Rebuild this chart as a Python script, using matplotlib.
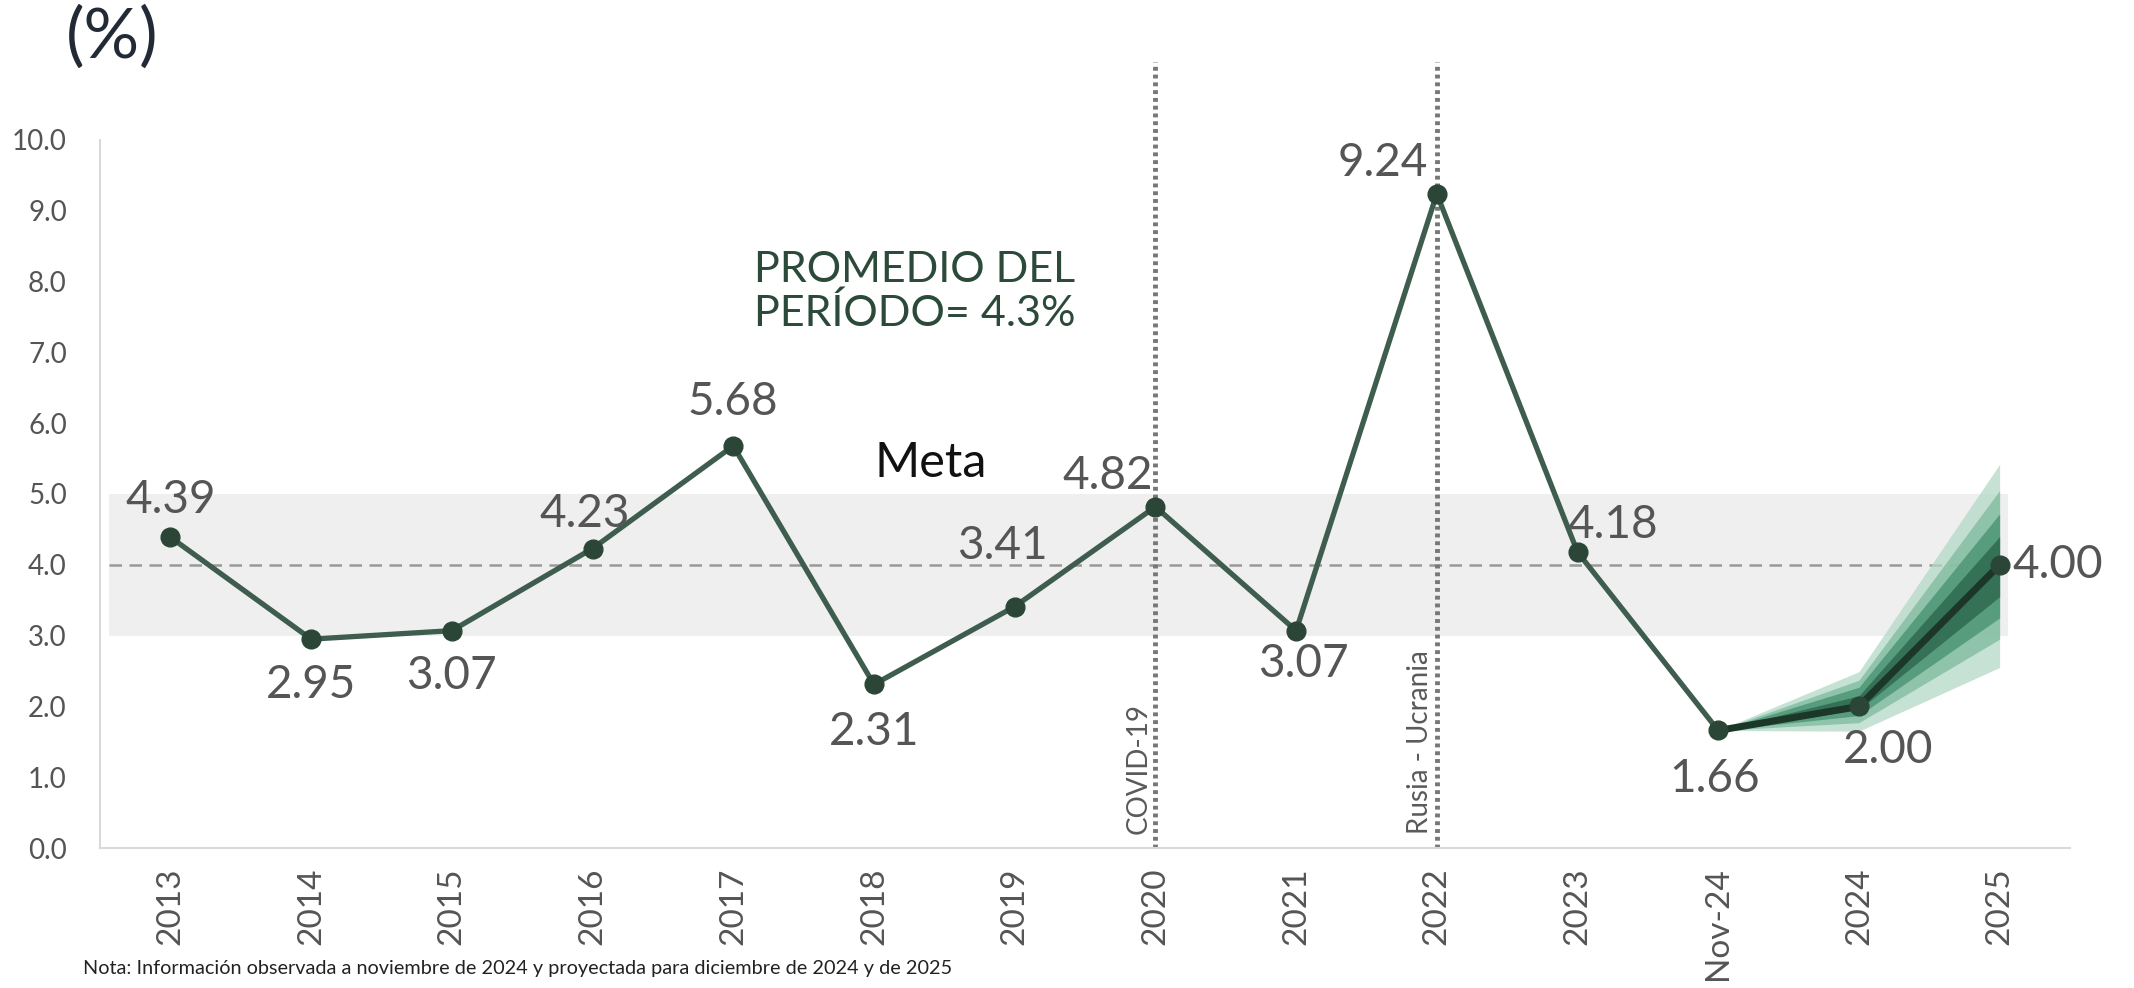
import matplotlib
matplotlib.use("Agg")
import matplotlib.pyplot as plt
import numpy as np

# ---- data ----
categories = ["2013", "2014", "2015", "2016", "2017", "2018", "2019", "2020",
              "2021", "2022", "2023", "Nov-24", "2024", "2025"]
values = [4.39, 2.95, 3.07, 4.23, 5.68, 2.31, 3.41, 4.82, 3.07, 9.24, 4.18, 1.66, 2.00, 4.00]
value_labels = ["4.39", "2.95", "3.07", "4.23", "5.68", "2.31", "3.41", "4.82",
                "3.07", "9.24", "4.18", "1.66", "2.00", "4.00"]
yticks = [0, 1, 2, 3, 4, 5, 6, 7, 8, 9, 10]
meta_low, meta_high, meta_center = 3.0, 5.0, 4.0
events = {"2020": "COVID-19", "2022": "Rusia - Ucrania"}
# fan chart (projection) bands: categories, lower / upper edges per band (inner -> outer)
fan_cats = ["Nov-24", "2024", "2025"]
fan_lower = [[1.66, 1.95, 3.55], [1.66, 1.87, 3.25], [1.66, 1.77, 2.95], [1.66, 1.65, 2.55]]
fan_upper = [[1.66, 2.15, 4.40], [1.66, 2.27, 4.72], [1.66, 2.37, 5.05], [1.66, 2.49, 5.42]]
fan_colors = ["#2a6347", "#45916e", "#7dbb9e", "#b3d9c6"]

plt.rcParams['font.family'] = ['Lato', 'DejaVu Sans']

fig = plt.figure(figsize=(21.34, 9.88), dpi=100)
ax = fig.add_axes([0.0469, 0.1417, 0.9231, 0.7166])

x = np.arange(len(categories))
idx = {c: i for i, c in enumerate(categories)}

# meta band and target line
ax.fill_between([-0.44, 13.06], meta_low, meta_high, color="#efefef", zorder=0, lw=0)
ax.plot([-0.44, 13.0], [meta_center, meta_center], color="#999999", lw=1.8,
        ls=(0, (5, 3)), zorder=1)

# event lines
for cat, lab in events.items():
    xi = idx[cat]
    ax.plot([xi, xi], [0, 11.1], color="#777777", lw=3.5, ls=(0, (0.8, 0.8)),
            clip_on=False, zorder=2)
    ax.text(xi - 0.12, 0.2, lab, rotation=90, ha="center", va="bottom",
            fontsize=20, color="#5a5a5a")

# fan chart (outer first)
fx = [idx[c] for c in fan_cats]
for lo, hi, col in reversed(list(zip(fan_lower, fan_upper, fan_colors))):
    ax.fill_between(fx, lo, hi, color=col, alpha=0.75, lw=0, zorder=3)

# historical line
n_hist = idx["Nov-24"] + 1
ax.plot(x[:n_hist], values[:n_hist], color="#3e5d4e", lw=3.8, zorder=4)
ax.plot(x[n_hist - 1:], values[n_hist - 1:], color="#1c3628", lw=5, zorder=4)
ax.plot(x, values, ls="none", marker="o", ms=13.5, color="#2b4637", zorder=5)

# data labels
offsets = [(0, 37), (0, -46), (0, -45), (-8, 35), (0, 44), (0, -48), (-12, 61),
           (-48, 31), (7, -33), (-54, 31), (35, 27), (-4, -49), (29, -44), (58, 0)]
for xi, v, lab, off in zip(x, values, value_labels, offsets):
    ax.annotate(lab, (xi, v), xytext=off, textcoords="offset pixels",
                ha="center", va="center", fontsize=33, color="#555555",
                zorder=6)

# annotations
ax.text(5.29, 7.85, "PROMEDIO DEL\nPERÍODO= 4.3%", ha="center", va="center",
        fontsize=31, color="#2b4a3a", linespacing=1.15)
ax.text(5.4, 5.44, "Meta", ha="center", va="center", fontsize=35, color="#111111")

# axes styling
ax.set_xlim(-0.5, 13.5)
ax.set_ylim(0, 10)
ax.set_yticks(yticks)
ax.set_yticklabels([f"{t:.1f}" for t in yticks], fontsize=20, color="#555555")
ax.set_xticks(x)
ax.set_xticklabels(categories, rotation=90, fontsize=24, color="#555555")
ax.tick_params(axis="both", length=0)
ax.tick_params(axis="y", pad=24)
ax.tick_params(axis="x", pad=14)
for s in ["top", "right"]:
    ax.spines[s].set_visible(False)
for s in ["left", "bottom"]:
    ax.spines[s].set_color("#d9d9d9")
    ax.spines[s].set_linewidth(1.5)

fig.text(0.031, 0.962, "(%)", fontsize=50, color="#222a35", ha="left", va="center")
fig.text(0.039, 0.011, "Nota: Información observada a noviembre de 2024 y proyectada para diciembre de 2024 y de 2025",
         fontsize=14.3, color="#222222", ha="left", va="bottom",
         family=["Lato", "DejaVu Sans"])

fig.savefig("out.png", dpi=100)
